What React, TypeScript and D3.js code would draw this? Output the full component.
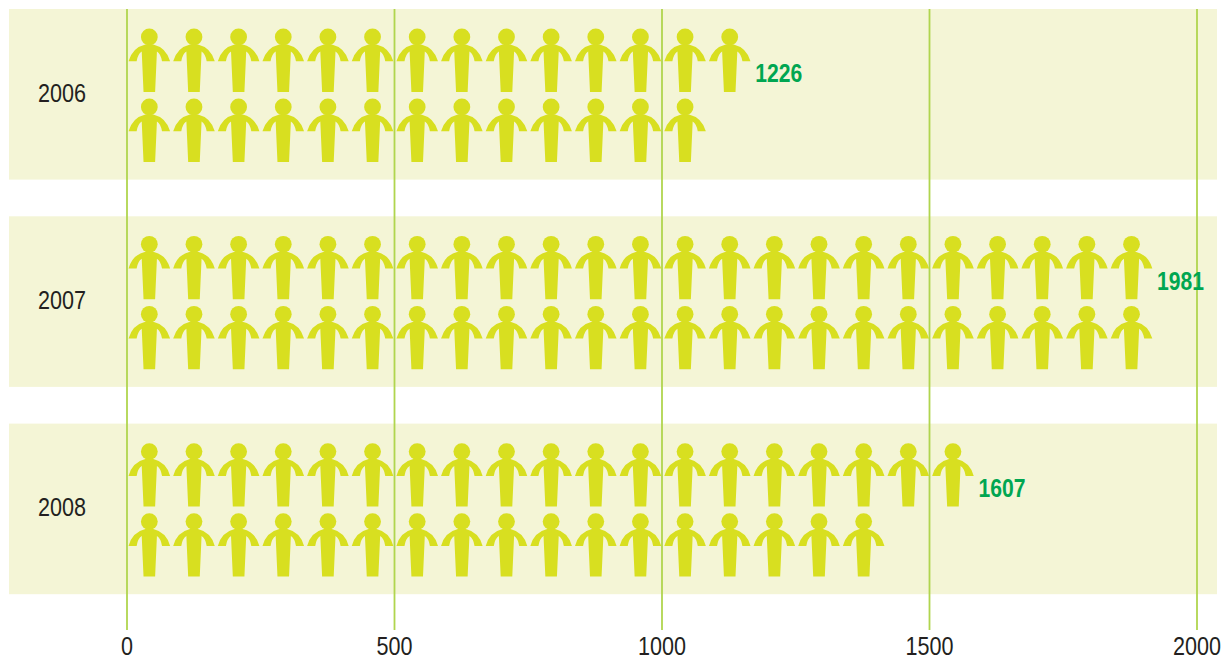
import React from "react";
import * as d3 from "d3";

const years = ["2006", "2007", "2008"];
const totals = [1226, 1981, 1607];
// figures drawn in the upper and lower row of each band
const upperCounts = [14, 23, 19];
const lowerCounts = [13, 23, 17];
const ticks = [0, 500, 1000, 1500, 2000];
const unitsPerFigure = 83.45;

const bandTops = [9, 216.3, 423.6];
const bandHeight = 170.6;

const x = d3.scaleLinear().domain([0, 2000]).range([127, 1197]);

const personPath = (() => {
  const p = d3.path();
  p.moveTo(-20.8, 24.3);
  p.quadraticCurveTo(-17, 10.5, -4, 7.4);
  p.lineTo(4, 7.4);
  p.quadraticCurveTo(17, 10.5, 20.8, 24.3);
  p.lineTo(12.7, 24.3);
  p.quadraticCurveTo(11.5, 17, 7.6, 14.5);
  p.lineTo(5.8, 55);
  p.lineTo(-5.8, 55);
  p.lineTo(-7.6, 14.5);
  p.quadraticCurveTo(-11.5, 17, -12.7, 24.3);
  p.closePath();
  return p.toString();
})();

const Person: React.FC<{ cx: number; cy: number }> = ({ cx, cy }) => (
  <g transform={`translate(${cx}, ${cy})`} fill="#d8df20">
    <circle r={8.4} />
    <path d={personPath} />
  </g>
);

const App: React.FC = () => {
  const font = "'Liberation Sans Narrow', 'Liberation Sans', Arial, sans-serif";
  return (
    <svg
      width={1228}
      height={661}
      style={{ position: "absolute", left: 0, top: 0, background: "#fff" }}
    >
      {years.map((year, i) => (
        <rect key={year} x={9} y={bandTops[i]} width={1208} height={bandHeight} fill="#f4f5d6" />
      ))}

      {ticks.map(t => (
        <line key={t} x1={x(t)} x2={x(t)} y1={9} y2={630} stroke="#b0d54e" strokeWidth={1.8} />
      ))}

      {years.map((year, i) => (
        <g key={year}>
          {d3.range(upperCounts[i]).map(n => (
            <Person key={n} cx={x((n + 0.5) * unitsPerFigure)} cy={bandTops[i] + 28} />
          ))}
          {d3.range(lowerCounts[i]).map(n => (
            <Person key={n} cx={x((n + 0.5) * unitsPerFigure)} cy={bandTops[i] + 98} />
          ))}
          <text
            x={62}
            y={bandTops[i] + 84}
            dy="0.35em"
            textAnchor="middle"
            fontFamily={font}
            fontSize={25}
            textLength={48}
            lengthAdjust="spacingAndGlyphs"
            fill="#231f20"
          >
            {year}
          </text>
          <text
            x={x((upperCounts[i] - 0.5) * unitsPerFigure) + 25.5}
            y={bandTops[i] + 64.5}
            dy="0.35em"
            fontFamily={font}
            fontSize={25}
            fontWeight="bold"
            textLength={47}
            lengthAdjust="spacingAndGlyphs"
            fill="#00a651"
          >
            {totals[i]}
          </text>
        </g>
      ))}

      {ticks.map(t => (
        <text
          key={t}
          x={x(t)}
          y={646.5}
          dy="0.35em"
          textAnchor="middle"
          fontFamily={font}
          fontSize={25}
          textLength={String(t).length * 12}
          lengthAdjust="spacingAndGlyphs"
          fill="#231f20"
        >
          {t}
        </text>
      ))}
    </svg>
  );
};

export default App;
